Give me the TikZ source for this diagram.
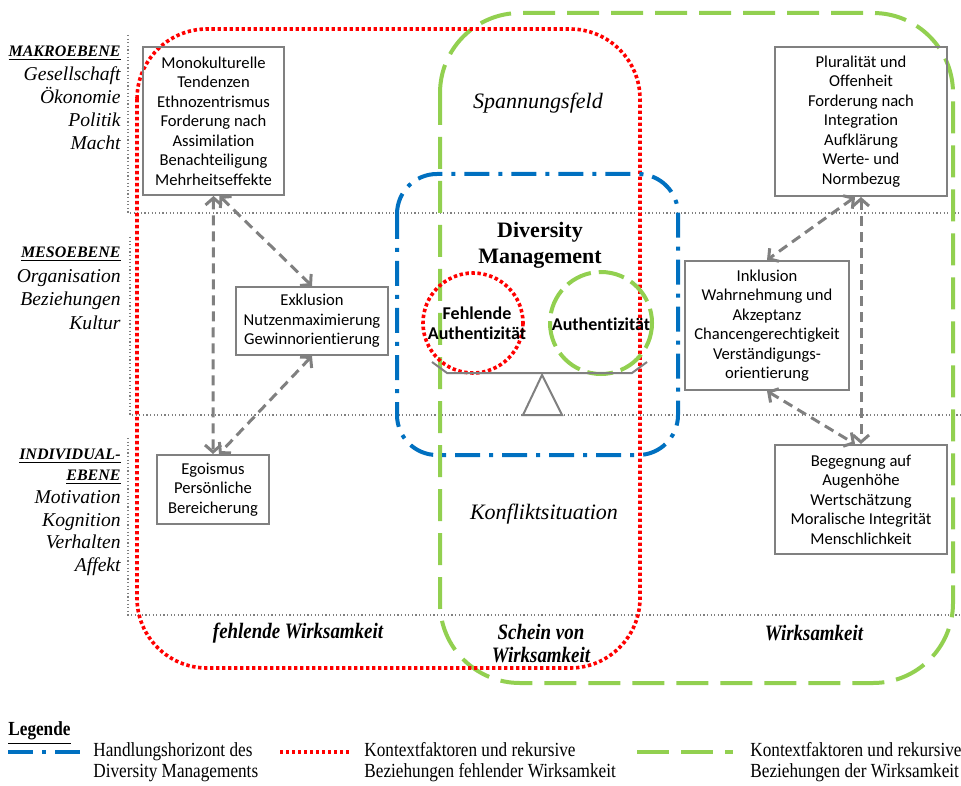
\documentclass[tikz,border=0pt]{standalone}
\usepackage{fontspec}
\setmainfont{Liberation Serif}
\newfontfamily\boxfont{Carlito}[Ligatures=NoCommon]
\newfontfamily\narrowfont{Liberation Serif}[FakeStretch=0.86]
\usetikzlibrary{arrows.meta}
\definecolor{ctxred}{HTML}{FF0000}
\definecolor{ctxgreen}{HTML}{92D050}
\definecolor{dmblue}{HTML}{0070C0}
\definecolor{linegray}{HTML}{808080}

\tikzset{
  redctx/.style={ctxred,line width=1.8pt,dash pattern=on 1.7pt off 1.3pt},
  greenctx/.style={ctxgreen,line width=2pt,dash pattern=on 16pt off 6pt},
  bluehor/.style={dmblue,line width=2pt,dash pattern=on 12.5pt off 4.5pt on 2pt off 4.5pt},
  levelline/.style={linegray,line width=0.8pt,dash pattern=on 0.6pt off 1.2pt},
  levelhead/.style={anchor=east,inner sep=0pt,text height=6.5pt,text depth=2pt,
    font=\bfseries\itshape\fontsize{8}{9}\selectfont},
  levelitem/.style={anchor=east,inner sep=0pt,text height=7pt,text depth=2pt,
    font=\itshape\fontsize{9.8}{11.5}\selectfont},
  infobox/.style={draw=linegray,line width=1pt,align=center,inner sep=1pt,
    font=\boxfont\fontsize{8.3}{9.75}\selectfont},
  fieldlabel/.style={font=\itshape\fontsize{11}{13}\selectfont},
  effectlabel/.style={align=center,font=\narrowfont\bfseries\itshape\fontsize{11}{11.5}\selectfont},
  circlabel/.style={align=center,font=\boxfont\bfseries\fontsize{9}{10}\selectfont},
  legendtext/.style={anchor=west,align=left,inner sep=0pt,font=\narrowfont\fontsize{10}{10.5}\selectfont},
  relarrow/.style={linegray,line width=1.5pt,dash pattern=on 5pt off 3pt,<->},
  seesaw/.style={linegray,line width=1pt}
}

\begin{document}
\begin{tikzpicture}[x=0.5pt,y=-0.5pt,>={Straight Barb[length=3.5pt,width=8pt]}]
  \useasboundingbox (0,0) rectangle (961,785);

  % levels
  \draw[levelline] (128,35) -- (128,213) -- (961,213);
  \draw[levelline] (130,237) -- (130,415) -- (961,415);
  \draw[levelline] (128,438) -- (128,615) -- (961,615);

  \node[levelhead] (makro) at (121,52) {\underline{MAKROEBENE}};
  \foreach \t [count=\i] in {Gesellschaft,Ökonomie,Politik,Macht}
    \node[levelitem] (makro\i) at (121,53+23*\i) {\t};
  \node[levelhead] (meso) at (121,253) {\underline{MESOEBENE}};
  \foreach \t [count=\i] in {Organisation,Beziehungen,Kultur}
    \node[levelitem] (meso\i) at (121,255+23*\i) {\t};
  \node[levelhead] (indiv) at (121,455) {\underline{INDIVIDUAL-}};
  \node[levelhead] (indivb) at (121,476) {\underline{EBENE}};
  \foreach \t [count=\i] in {Motivation,Kognition,Verhalten,Affekt}
    \node[levelitem] (indiv\i) at (121,476+22.5*\i) {\t};

  % context fields
  \draw[greenctx,rounded corners=40pt] (440,13) rectangle (953,683);
  \draw[redctx,rounded corners=35pt] (137,29) rectangle (640,668);
  \draw[bluehor,rounded corners=20pt] (397,174) rectangle (678,455);

  \node[fieldlabel] (spann) at (538,103) {Spannungsfeld};
  \node[fieldlabel] (konflikt) at (544,514) {Konfliktsituation};

  % diversity management
  \node[align=center,font=\bfseries\fontsize{11}{13}\selectfont] (dm) at (540,245)
    {Diversity\\Management};
  \draw[redctx] (473,323) circle (50);
  \draw[ctxgreen,line width=2pt,dash pattern=on 13pt off 4pt] (601,323) circle (51);
  \node[circlabel] (fehlauth) at (477,323) {Fehlende\\Authentizität};
  \node[circlabel] (auth) at (601,324) {Authentizität};
  \draw[seesaw] (432,362) -- (447,373) -- (632,373) -- (647,362);
  \draw[seesaw] (542,375) -- (523,415) -- (562,415) -- cycle;

  % factor boxes
  \node[infobox,minimum width=70.5pt,minimum height=74pt] (mono) at (213.5,121)
    {Monokulturelle\\Tendenzen\\Ethnozentrismus\\Forderung nach\\Assimilation\\Benachteiligung\\Mehrheitseffekte};
  \node[infobox,minimum width=76pt,minimum height=34pt] (exkl) at (312,321)
    {Exklusion\\Nutzenmaximierung\\Gewinnorientierung};
  \node[infobox,minimum width=56pt,minimum height=34.5pt] (ego) at (213,489.5)
    {Egoismus\\Persönliche\\Bereicherung};
  \node[infobox,minimum width=86pt,minimum height=74.5pt] (plur) at (861,121.5)
    {Pluralität und\\Offenheit\\Forderung nach\\Integration\\Aufklärung\\Werte- und\\Normbezug};
  \node[infobox,minimum width=82pt,minimum height=64.5pt] (inkl) at (767,325.5)
    {Inklusion\\Wahrnehmung und\\Akzeptanz\\Chancengerechtigkeit\\Verständigungs-\\orientierung};
  \node[infobox,minimum width=86pt,minimum height=54.5pt] (beg) at (861,499.5)
    {Begegnung auf\\Augenhöhe\\Wertschätzung\\Moralische Integrität\\Menschlichkeit};

  \draw[relarrow] (mono.south) -- (ego.north);
  \draw[relarrow] ([xshift=3pt]mono.south) -- (exkl.north);
  \draw[relarrow] (exkl.south) -- ([xshift=3pt]ego.north);
  \draw[relarrow] (plur.south) -- (beg.north);
  \draw[relarrow] ([xshift=-3pt]plur.south) -- (inkl.north);
  \draw[relarrow] (inkl.south) -- ([xshift=-3pt]beg.north);

  % effect labels
  \node[effectlabel] (fehlwirk) at (298,633) {fehlende Wirksamkeit};
  \node[effectlabel] (schein) at (541,644) {Schein von\\Wirksamkeit};
  \node[effectlabel] (wirk) at (814,633) {Wirksamkeit};

  % legend
  \node[anchor=west,inner sep=0pt,font=\narrowfont\bfseries\fontsize{10}{12}\selectfont]
    (legende) at (8,733) {\underline{Legende}};
  \draw[bluehor] (8,752) -- (80,752);
  \node[legendtext] (leg1) at (93,762.5) {Handlungshorizont des\\Diversity Managements};
  \draw[redctx] (280,752) -- (349,752);
  \node[legendtext] (leg2) at (364,762.5) {Kontextfaktoren und rekursive\\Beziehungen fehlender Wirksamkeit};
  \draw[greenctx] (637,752) -- (733,752);
  \node[legendtext] (leg3) at (750,762.5) {Kontextfaktoren und rekursive\\Beziehungen der Wirksamkeit};
\end{tikzpicture}
\end{document}
